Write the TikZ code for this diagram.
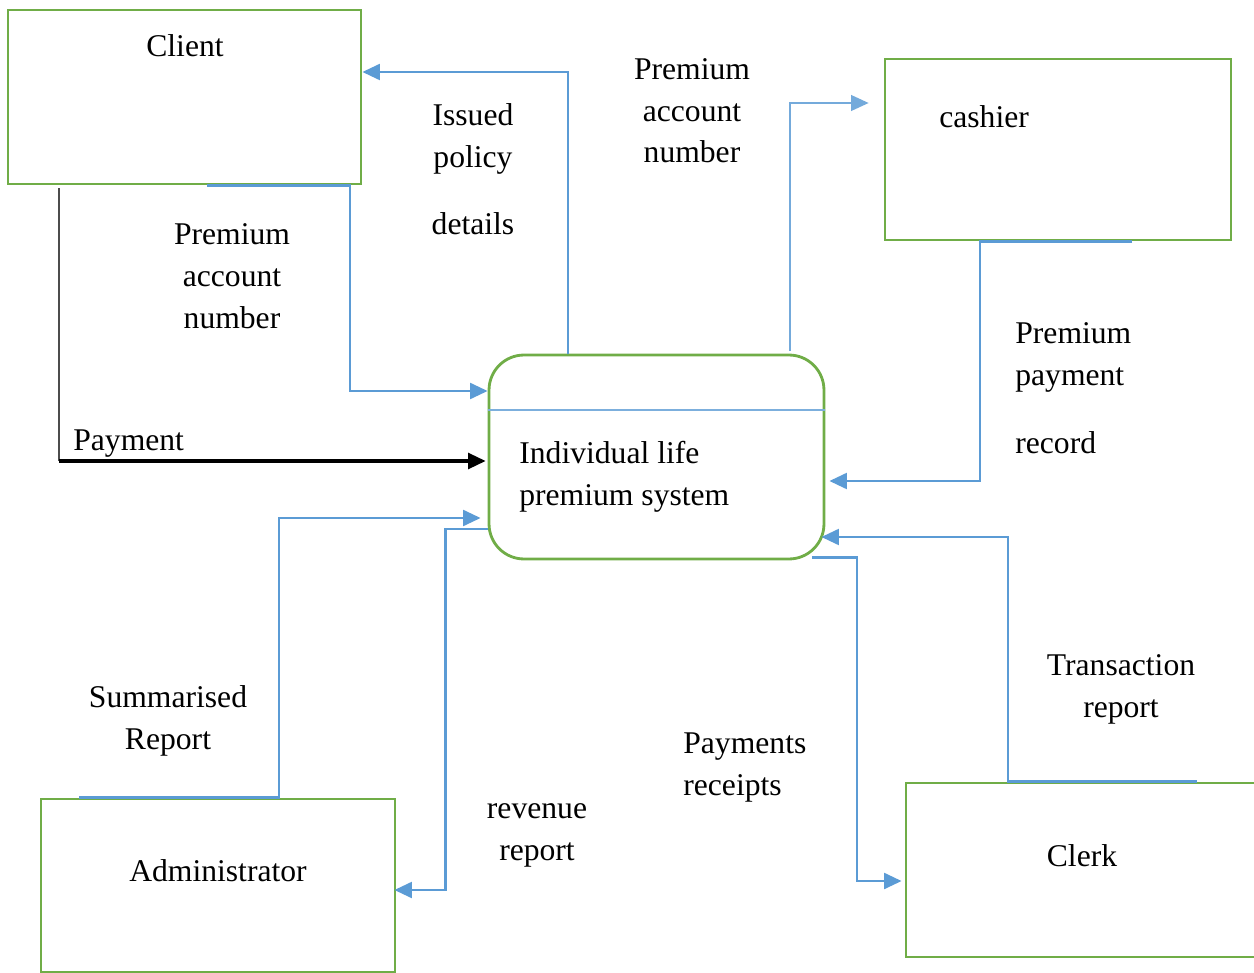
\documentclass[tikz,border=0pt]{standalone}
\usepackage{fontspec}
\setmainfont{Liberation Serif}
\usetikzlibrary{arrows.meta}
\definecolor{boxgreen}{HTML}{70AD47}
\definecolor{flowblue}{HTML}{5B9BD5}
\begin{document}
\begin{tikzpicture}[x={(0.02cm,0cm)}, y={(0cm,-0.02cm)},
  entity/.style={draw=boxgreen, line width=1.6pt, inner sep=0pt},
  lbl/.style={font=\fontsize{18}{23.9}\selectfont, inner sep=0pt, anchor=base},
  flow/.style={draw=flowblue, line width=1.6pt, -{Triangle[length=10pt,width=9pt]}},
  thinflow/.style={draw=flowblue!85, line width=0.9pt, -{Triangle[length=10pt,width=9pt]}},
  divider/.style={draw=flowblue!80, line width=0.9pt},
  payfeed/.style={draw=black!70, line width=1pt},
  paymain/.style={draw=black, line width=1.8pt, -{Triangle[length=10pt,width=9pt]}}]

\useasboundingbox (0,0) rectangle (1254,973);

% external entities and the process
\node[entity, minimum width=7.06cm, minimum height=3.48cm] (client) at (184.5,97) {};
\node[entity, minimum width=6.92cm, minimum height=3.62cm] (cashier) at (1058,149.5) {};
\node[entity, minimum width=7.08cm, minimum height=3.46cm] (admin) at (218,885.5) {};
\node[entity, minimum width=7.16cm, minimum height=3.48cm] (clerk) at (1085,870) {};
\node[entity, rounded corners=0.7cm, minimum width=6.7cm, minimum height=4.08cm] (process) at (656.5,457) {};
\draw[divider] ([shift={(0,-47)}]process.west) -- ([shift={(0,-47)}]process.east);

% entity names (multi-line nodes are placed by their last baseline)
\node[lbl] (clientname) at (185,57) {Client};
\node[lbl, anchor=base west] (cashiername) at (939,128) {cashier};
\node[lbl] (adminname) at (218,881) {Administrator};
\node[lbl] (clerkname) at (1082,866) {Clerk};
\node[lbl, anchor=base west, align=left] (processname) at (519,505) {Individual life\\premium system};

% data flows
\draw[flow] ([shift={(22.5,0)}]client.south) -- ([shift={(165.5,0)}]client.south)
  |- ([shift={(0,-66)}]process.west);
\draw[flow] ([shift={(-88.5,0)}]process.north) |- ([shift={(0,-25)}]client.east);
\draw[thinflow] ([shift={(133.5,-3)}]process.north) |- ([shift={(-15,-46.5)}]cashier.west);
\draw[flow] ([shift={(74,0)}]cashier.south) -- ([shift={(-78,0)}]cashier.south)
  |- ([shift={(4,24)}]process.east);

\path ([shift={(-125.5,3)}]client.south) coordinate (payfrom);
\path ([shift={(-2,4)}]process.west) coordinate (payto);
\coordinate (paycorner) at (payfrom |- payto);
\draw[payfeed] (payfrom) -- (paycorner);
\draw[paymain] (paycorner) -- (payto);

\draw[flow] ([shift={(-139,0)}]admin.north) -- ([shift={(61,0)}]admin.north)
  |- ([shift={(-7,61)}]process.west);
\draw[flow] ([shift={(0,72)}]process.west) -- ([shift={(-42,72)}]process.west)
  |- ([shift={(-2,4.5)}]admin.east);
\draw[flow] ([shift={(155.5,-3)}]process.south) -- ([shift={(200.5,-3)}]process.south)
  |- ([shift={(-3,11)}]clerk.west);
\draw[flow] ([shift={(112,0)}]clerk.north) -- ([shift={(-77,0)}]clerk.north)
  |- ([shift={(-4,80)}]process.east);

% flow labels
\node[lbl, align=center] (lblacct) at (232,328) {Premium\\account\\number};
\node[lbl, align=center] (lblpolicy) at (473,235) {Issued\\policy\\[0.52cm]details};
\node[lbl, align=center] (lblacct2) at (692,163) {Premium\\account\\number};
\node[lbl, anchor=base west, align=left] (lblrecord) at (1015,453) {Premium\\payment\\[0.52cm]record};
\node[lbl, anchor=base west] (lblpay) at (73,450) {Payment};
\node[lbl, align=center] (lblsummary) at (168,749) {Summarised\\Report};
\node[lbl, align=center] (lblrevenue) at (537,860) {revenue\\report};
\node[lbl, anchor=base west, align=left] (lblreceipts) at (683,795) {Payments\\receipts};
\node[lbl, align=center] (lbltrans) at (1121,717) {Transaction\\report};
\end{tikzpicture}
\end{document}
